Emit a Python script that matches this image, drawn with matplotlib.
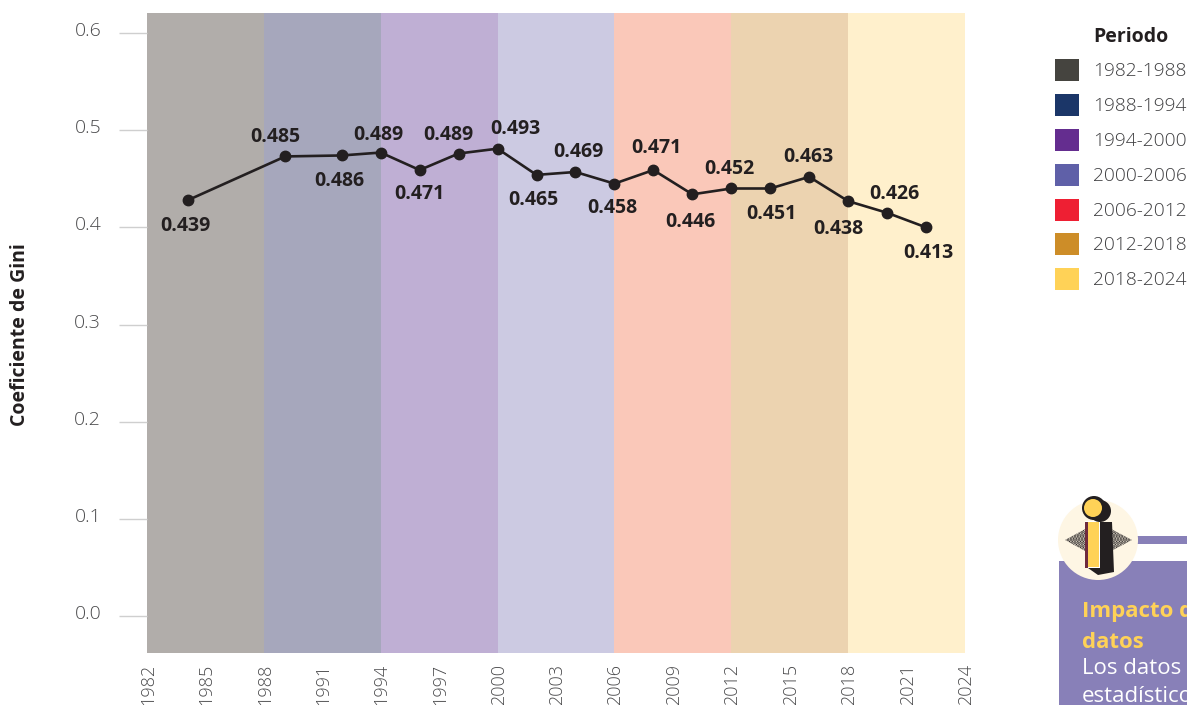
# plot_gini_mexico.py

import matplotlib
matplotlib.use("Agg")
import matplotlib.pyplot as plt
from matplotlib.patches import Circle, Polygon, Rectangle
from matplotlib.transforms import ScaledTranslation

plt.rcParams['font.family'] = ['Open Sans', 'DejaVu Sans']
plt.rcParams['hatch.linewidth'] = 1.6

# === Data ===
years = [1984.1, 1989.1, 1992, 1994, 1996, 1998, 2000, 2002, 2004,
         2006, 2008, 2010, 2012, 2014, 2016, 2018, 2020, 2022]
gini_plotted = [0.428, 0.473, 0.474, 0.477, 0.459, 0.476, 0.481, 0.454, 0.457,
                0.445, 0.459, 0.434, 0.440, 0.440, 0.452, 0.427, 0.415, 0.400]
gini_labels = ["0.439", "0.485", "0.486", "0.489", "0.471", "0.489", "0.493", "0.465", "0.469",
               "0.458", "0.471", "0.446", "0.452", "0.451", "0.463", "0.438", "0.426", "0.413"]

period_starts = [1982, 1988, 1994, 2000, 2006, 2012, 2018]
period_ends = [1988, 1994, 2000, 2006, 2012, 2018, 2024]
period_names = ["1982-1988", "1988-1994", "1994-2000", "2000-2006",
                "2006-2012", "2012-2018", "2018-2024"]
band_colors = ["#b1adaa", "#a6a7bc", "#bfafd4", "#cccae2", "#fac8b9", "#ecd3b0", "#fff0cc"]
legend_colors = ["#45443f", "#1b3668", "#642d8f", "#5f60a8", "#ee1f33", "#cd8d28", "#ffd257"]

y_ticks = [0.0, 0.1, 0.2, 0.3, 0.4, 0.5, 0.6]
x_ticks = list(range(1982, 2025, 3))

# Label offset from its point, in pixels (right, up)
label_dx = [-3, -10, -2, -2, 0, -10, 18, -3, 3, -2, 3, -2, -2, 1, -1, -10, 7, 2]
label_dy = [-26, 19, -26, 18, -24, 19, 20, -25, 20, -24, 22, -28, 19, -26, 20, -28, 19, -26]

# === Figure ===
W, H = 1187, 705
fig = plt.figure(figsize=(W / 100, H / 100), dpi=100, facecolor="white")
ax = fig.add_axes([147 / W, 1 - 653 / H, (965 - 147) / W, (653 - 13) / H])

for start, end, color in zip(period_starts, period_ends, band_colors):
    ax.axvspan(start, end, color=color, linewidth=0, zorder=1)

ax.plot(years, gini_plotted, color="#231f20", linewidth=1.9, marker="o",
        markersize=7.5, zorder=3, clip_on=False)

for i in range(len(years)):
    ax.annotate(gini_labels[i], (years[i], gini_plotted[i]),
                xytext=(label_dx[i] * 0.72, label_dy[i] * 0.72), textcoords="offset points",
                ha="center", va="center", fontsize=14, fontweight="bold", color="#231f20", zorder=4)

ax.set_xlim(1982, 2024)
ax.set_ylim(-0.038, 0.6206)
ax.set_xticks(x_ticks)
ax.set_yticks(y_ticks)
ax.set_yticklabels([f"{v:.1f}" for v in y_ticks])
ax.tick_params(axis="x", length=0, pad=8, labelsize=13, labelcolor="#4a4a4c", labelrotation=90)
ax.tick_params(axis="y", length=20, width=1, color="#cfcfcf", pad=13, labelsize=14, labelcolor="#4a4a4c")
for label in ax.get_xticklabels() + ax.get_yticklabels():
    label.set_fontweight(300)
# y labels sit a little above their tick in the original, x labels a little to the right
for label in ax.get_yticklabels():
    label.set_transform(label.get_transform() + ScaledTranslation(0, 4 / 100, fig.dpi_scale_trans))
for label in ax.get_xticklabels():
    label.set_transform(label.get_transform() + ScaledTranslation(1 / 100, 0, fig.dpi_scale_trans))
for spine in ax.spines.values():
    spine.set_visible(False)

# === Overlay in pixel coordinates: axis title, legend and info box ===
over = fig.add_axes([0, 0, 1, 1], facecolor="none")
over.set_xlim(0, W)
over.set_ylim(H, 0)
over.axis("off")

over.text(20, 335, "Coeficiente de Gini", rotation=90, ha="center", va="center",
          fontsize=14, fontweight="bold", color="#231f20")

over.text(1093, 37, "Periodo", ha="left", va="center", fontsize=14, fontweight="bold", color="#231f20")
legend_top = [59, 94, 129, 164, 199, 233, 268]
for top, name, color in zip(legend_top, period_names, legend_colors):
    over.add_patch(Rectangle((1055, top), 24, 22, facecolor=color, linewidth=0))
    over.text(1093, top + 12, name, ha="left", va="center", fontsize=13.8,
              fontweight=300, color="#3f3f41")

# info box
box_color = "#8880b8"
over.add_patch(Rectangle((1059, 561), W - 1059, H - 561, facecolor=box_color, linewidth=0))
over.add_patch(Rectangle((1136, 536), W - 1136, 8, facecolor=box_color, linewidth=0))
over.add_patch(Circle((1098, 540), 40, facecolor="#fef6e4", linewidth=0, zorder=2))
over.add_patch(Polygon([(1065, 540), (1098, 522), (1132, 540), (1098, 558)], closed=True,
                       facecolor="#fef6e4", edgecolor="#231f20", hatch="......", linewidth=0, zorder=3))
over.add_patch(Polygon([(1092, 522), (1112, 522), (1114, 572), (1098, 575), (1088, 568)], closed=True,
                       facecolor="#231f20", linewidth=0, zorder=4))
over.add_patch(Rectangle((1085, 521), 15, 47, facecolor="white", linewidth=0, zorder=5))
over.add_patch(Rectangle((1085, 522), 3, 46, facecolor="#6f2b3f", linewidth=0, zorder=6))
over.add_patch(Rectangle((1088, 522), 11, 45, facecolor="#ffd257", linewidth=0, zorder=6))
over.add_patch(Circle((1100, 511), 11, facecolor="#231f20", linewidth=0, zorder=5))
over.add_patch(Circle((1094, 508), 12, facecolor="#231f20", linewidth=0, zorder=6))
over.add_patch(Circle((1093, 508), 9, facecolor="#ffd257", linewidth=0, zorder=7))

over.text(1082, 611, "Impacto de", ha="left", va="center", fontsize=16, fontweight="bold", color="#ffd257")
over.text(1082, 642, "datos", ha="left", va="center", fontsize=16, fontweight="bold", color="#ffd257")
over.text(1082, 669, "Los datos", ha="left", va="center", fontsize=16, color="white")
over.text(1082, 696, "estadísticos", ha="left", va="center", fontsize=16, color="white")

plt.savefig("out.png", dpi=100)
plt.close()
